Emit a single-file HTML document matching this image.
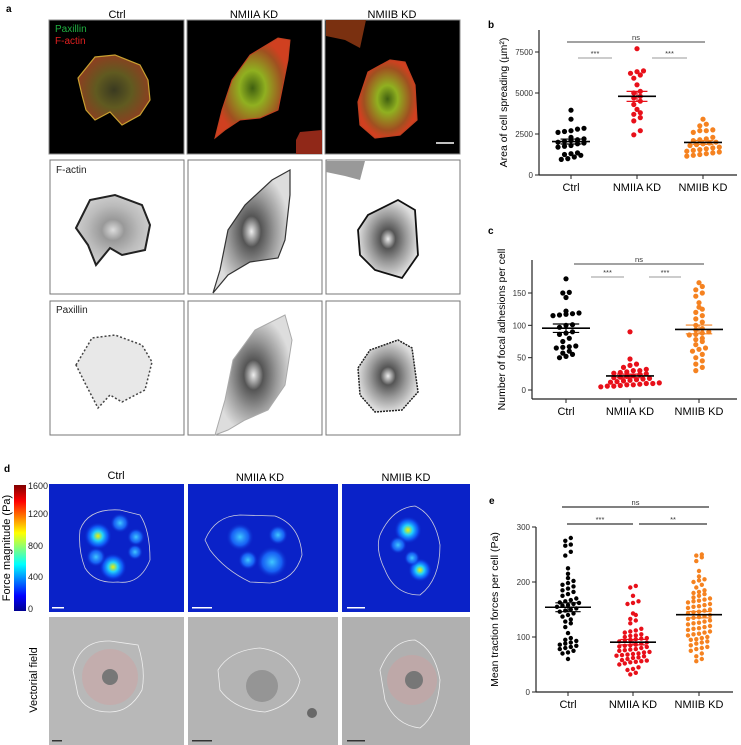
<!DOCTYPE html>
<html><head><meta charset="utf-8"><style>
html,body{margin:0;padding:0;background:#fff;}
svg{display:block;font-family:"Liberation Sans",Arial,sans-serif;}
</style></head><body>
<svg id="fig" width="741" height="745" viewBox="0 0 741 745">
<defs>
<linearGradient id="jet" x1="0" y1="1" x2="0" y2="0">
<stop offset="0" stop-color="#00008f"/><stop offset="0.12" stop-color="#0000ff"/><stop offset="0.37" stop-color="#00ffff"/><stop offset="0.62" stop-color="#ffff00"/><stop offset="0.87" stop-color="#ff0000"/><stop offset="1" stop-color="#800000"/>
</linearGradient>
<radialGradient id="hot"><stop offset="0" stop-color="#f0f000"/><stop offset="0.35" stop-color="#20d0ff"/><stop offset="0.7" stop-color="#1060ff" stop-opacity="0.8"/><stop offset="1" stop-color="#0a20c0" stop-opacity="0"/></radialGradient>
<radialGradient id="warm"><stop offset="0" stop-color="#40c8ff"/><stop offset="0.6" stop-color="#1a70ff" stop-opacity="0.8"/><stop offset="1" stop-color="#0a20c0" stop-opacity="0"/></radialGradient>
<radialGradient id="cellg"><stop offset="0" stop-color="#406010"/><stop offset="0.35" stop-color="#90b020"/><stop offset="0.8" stop-color="#a05020"/><stop offset="1" stop-color="#d04020"/></radialGradient>
<radialGradient id="cellc"><stop offset="0" stop-color="#3a3a20"/><stop offset="0.5" stop-color="#605a20"/><stop offset="1" stop-color="#8a4020"/></radialGradient>
<radialGradient id="gray1"><stop offset="0" stop-color="#ddd"/><stop offset="0.3" stop-color="#999"/><stop offset="0.7" stop-color="#bbb"/><stop offset="1" stop-color="#ccc"/></radialGradient>
<radialGradient id="gray2"><stop offset="0" stop-color="#eee"/><stop offset="0.25" stop-color="#555"/><stop offset="0.6" stop-color="#999"/><stop offset="1" stop-color="#ddd"/></radialGradient>
</defs>

<g>
<text x="6" y="12" font-size="10" font-weight="bold">a</text>
<text x="117" y="18" font-size="11" text-anchor="middle">Ctrl</text>
<text x="254" y="18" font-size="11" text-anchor="middle">NMIIA KD</text>
<text x="392" y="18" font-size="11" text-anchor="middle">NMIIB KD</text>
<rect x="49" y="20" width="135" height="134" fill="#000" stroke="#888"/>
<rect x="187" y="20" width="135" height="134" fill="#000" stroke="#888"/>
<rect x="325" y="20" width="135" height="134" fill="#000" stroke="#888"/>
<polygon points="78,78 95,57 115,55 140,65 148,80 150,100 140,115 122,125 110,112 95,120 86,110 82,95" fill="url(#cellc)" stroke="#c8a030" stroke-width="1.2"/>
<polygon points="215,138 222,110 232,80 250,55 278,38 290,40 288,60 282,90 278,110 260,118 240,120 225,130" fill="url(#cellg)" stroke="#c04020" stroke-width="1"/>
<polygon points="296,140 300,132 322,130 322,154 296,154" fill="#902818"/>
<polygon points="326,20 366,20 360,48 345,40 326,36" fill="#7a3010"/>
<polygon points="358,102 368,72 390,60 405,62 415,85 417,120 400,135 375,138 360,125" fill="url(#cellg)" stroke="#c04020" stroke-width="1.2"/>
<line x1="436" y1="143" x2="454" y2="143" stroke="#fff" stroke-width="1.5"/>
<text x="55" y="32" font-size="10" fill="#20b040">Paxillin</text>
<text x="55" y="44" font-size="10" fill="#e02020">F-actin</text>
<rect x="50" y="160" width="134" height="134" fill="#fff" stroke="#777"/>
<rect x="188" y="160" width="134" height="134" fill="#fff" stroke="#777"/>
<rect x="326" y="160" width="134" height="134" fill="#fff" stroke="#777"/>
<polygon points="76,228 90,200 115,195 142,205 150,225 145,250 122,255 110,248 96,265 88,245" fill="url(#gray1)" stroke="#222" stroke-width="2"/>
<polygon points="213,293 220,270 228,230 245,205 272,180 290,170 290,195 285,240 278,258 250,262 228,275" fill="url(#gray2)" stroke="#333" stroke-width="1.2"/>
<polygon points="358,230 368,215 398,200 415,210 418,255 402,278 375,270 360,255" fill="url(#gray2)" stroke="#111" stroke-width="1.8"/>
<polygon points="326,161 365,161 360,180 345,176 326,172" fill="#999"/>
<text x="56" y="173" font-size="10" fill="#222">F-actin</text>
<rect x="50" y="301" width="134" height="134" fill="#fff" stroke="#777"/>
<rect x="188" y="301" width="134" height="134" fill="#fff" stroke="#777"/>
<rect x="326" y="301" width="134" height="134" fill="#fff" stroke="#777"/>
<polygon points="76,365 92,338 115,335 142,345 152,362 145,390 122,402 110,395 98,408 86,385" fill="#e8e8e8" stroke="#444" stroke-width="1.5" stroke-dasharray="2,2"/>
<polygon points="215,435 225,400 233,360 255,330 285,315 292,340 285,385 268,410 245,420 228,430" fill="url(#gray2)" stroke="#aaa"/>
<polygon points="358,368 370,350 398,340 412,348 418,392 402,410 375,412 360,395" fill="url(#gray2)" stroke="#222" stroke-width="1.5" stroke-dasharray="2,1"/>
<text x="56" y="313" font-size="10" fill="#222">Paxillin</text>
</g>

<g>
<text x="4" y="472" font-size="10" font-weight="bold">d</text>
<text x="116" y="479" font-size="11" text-anchor="middle">Ctrl</text>
<text x="260" y="481" font-size="11" text-anchor="middle">NMIIA KD</text>
<text x="406" y="481" font-size="11" text-anchor="middle">NMIIB KD</text>
<rect x="14" y="485" width="12" height="126" fill="url(#jet)"/>
<g font-size="9" fill="#222">
<text x="28" y="489">1600</text>
<text x="28" y="517">1200</text>
<text x="28" y="549">800</text>
<text x="28" y="580">400</text>
<text x="28" y="612">0</text>
</g>
<text transform="translate(10,548) rotate(-90)" font-size="11" text-anchor="middle">Force magnitude (Pa)</text>
<text transform="translate(37,680) rotate(-90)" font-size="11" text-anchor="middle">Vectorial field</text>
<rect x="49" y="484" width="135" height="128" fill="#0a22c8"/>
<rect x="188" y="484" width="150" height="128" fill="#0a22c8"/>
<rect x="342" y="484" width="128" height="128" fill="#0a22c8"/>
<circle cx="98" cy="536" r="14" fill="url(#hot)"/><circle cx="113" cy="567" r="14" fill="url(#hot)"/><circle cx="96" cy="557" r="10" fill="url(#warm)"/><circle cx="120" cy="523" r="10" fill="url(#warm)"/><circle cx="136" cy="537" r="9" fill="url(#warm)"/><circle cx="135" cy="552" r="8" fill="url(#warm)"/>
<path d="M80,530 Q88,508 120,510 L140,515 Q150,530 150,560 Q140,585 118,582 Q95,584 85,568 Q78,550 80,530Z" fill="none" stroke="#ccd" stroke-width="0.8"/>
<circle cx="240" cy="537" r="14" fill="url(#warm)"/><circle cx="272" cy="562" r="16" fill="url(#warm)"/><circle cx="248" cy="560" r="10" fill="url(#warm)"/><circle cx="278" cy="535" r="10" fill="url(#warm)"/>
<path d="M205,540 Q215,516 240,515 L275,516 Q300,525 302,555 Q295,580 270,583 L250,582 Q225,570 210,550Z" fill="none" stroke="#ccd" stroke-width="0.8"/>
<circle cx="408" cy="530" r="14" fill="url(#hot)"/><circle cx="420" cy="570" r="12" fill="url(#hot)"/><circle cx="398" cy="545" r="9" fill="url(#warm)"/><circle cx="412" cy="558" r="8" fill="url(#warm)"/>
<path d="M380,535 Q392,508 415,506 Q435,515 440,545 Q440,580 420,595 Q395,595 385,570 Q375,550 380,535Z" fill="none" stroke="#ccd" stroke-width="0.8"/>
<rect x="52" y="607" width="12" height="1.5" fill="#fff"/><rect x="192" y="607" width="20" height="1.5" fill="#fff"/><rect x="347" y="607" width="18" height="1.5" fill="#fff"/>
<rect x="49" y="617" width="135" height="128" fill="#b8b8b8"/>
<rect x="188" y="617" width="150" height="128" fill="#b4b4b4"/>
<rect x="342" y="617" width="128" height="128" fill="#b0b0b0"/>
<circle cx="110" cy="677" r="28" fill="#d0a0a0" opacity="0.45"/><circle cx="110" cy="677" r="8" fill="#777"/>
<path d="M73,670 Q80,640 110,641 L138,645 Q146,670 142,690 Q130,712 110,712 Q85,712 78,695Z" fill="none" stroke="#eee" stroke-width="0.8"/>
<circle cx="262" cy="686" r="16" fill="#888" opacity="0.7"/><circle cx="312" cy="713" r="5" fill="#555" opacity="0.8"/>
<path d="M218,670 Q230,650 260,648 Q290,652 300,680 Q295,705 265,712 Q235,710 220,690Z" fill="none" stroke="#eee" stroke-width="0.8"/>
<circle cx="412" cy="680" r="25" fill="#d0a0a0" opacity="0.45"/><circle cx="414" cy="680" r="9" fill="#777"/>
<path d="M380,670 Q392,640 415,640 Q435,650 440,680 Q438,715 420,728 Q395,725 385,700Z" fill="none" stroke="#eee" stroke-width="0.8"/>
<rect x="52" y="740" width="10" height="1.5" fill="#333"/><rect x="192" y="740" width="20" height="1.5" fill="#333"/><rect x="347" y="740" width="18" height="1.5" fill="#333"/>
</g>

<g id="charts"></g>
</svg>
<script>
const categories = ["Ctrl", "NMIIA KD", "NMIIB KD"];
const colors = ["#000000", "#e8101a", "#f58220"];

const areaCtrl = [3950,3400,2850,2800,2700,2650,2600,2300,2200,2150,2100,2050,2000,1950,1900,1800,1750,1700,1350,1300,1250,1200,1100,1000,950];
const areaNMIIA = [7700,6350,6300,6200,6100,5900,5500,5100,5000,4800,4700,4500,4300,4000,3800,3700,3500,3300,2700,2450];
const areaNMIIB = [3400,3100,3000,2750,2700,2700,2600,2300,2200,2150,2100,2000,1950,1900,1850,1800,1700,1650,1600,1550,1500,1450,1400,1350,1300,1250,1200,1150];
const areaTicks = [0,2500,5000,7500];

const faCtrl = [172,151,150,143,122,119,118,117,116,115,101,100,97,90,88,86,80,75,68,67,66,65,60,57,55,52,50];
const faNMIIA = [90,48,40,38,35,32,30,30,28,27,26,25,24,22,21,20,19,18,17,16,15,14,13,12,11,10,10,9,8,8,7,6,6,5];
const faNMIIB = [166,160,155,150,145,135,128,125,120,115,110,105,100,95,93,90,88,86,85,80,78,75,70,65,63,60,55,50,45,40,35,30];
const faTicks = [0,50,100,150];

const tfCtrl = [280,275,268,266,255,248,225,215,207,202,198,195,192,188,185,182,178,175,170,167,165,163,162,160,158,157,155,152,150,148,146,143,140,137,132,128,125,118,107,98,95,93,90,88,86,84,82,80,78,75,72,70,60];
const tfNMIIA = [193,190,175,165,162,160,143,140,133,130,125,115,112,110,108,105,103,102,100,98,97,96,95,93,92,90,88,86,85,84,83,82,80,78,77,76,75,73,72,70,69,68,67,66,65,63,62,60,58,57,56,55,54,52,50,45,42,40,35,32];
const tfNMIIB = [250,248,245,238,220,210,205,203,200,195,190,185,182,180,178,175,172,170,168,166,165,163,160,158,156,155,153,150,148,146,145,143,140,138,136,135,133,130,128,126,125,123,120,118,116,115,113,110,108,106,105,103,100,98,96,95,92,90,88,85,82,80,78,75,70,65,60,56];
const tfTicks = [0,100,200,300];

const NS = "http://www.w3.org/2000/svg";
const root = document.getElementById("charts");
function mk(tag, attrs, parent, txt) {
  const e = document.createElementNS(NS, tag);
  for (const k in attrs) e.setAttribute(k, attrs[k]);
  if (txt !== undefined) e.textContent = txt;
  (parent || root).appendChild(e);
  return e;
}
function stats(a) {
  const m = a.reduce((s, v) => s + v, 0) / a.length;
  const sd = Math.sqrt(a.reduce((s, v) => s + (v - m) * (v - m), 0) / (a.length - 1));
  return [m, sd / Math.sqrt(a.length)];
}
// bin-based horizontal spread: values in same vertical band are laid side by side
function swarm(vals, cx, y, r, band) {
  const sorted = vals.slice().sort((a, b) => a - b);
  const rows = [];
  sorted.forEach(v => {
    const py = y(v);
    let row = rows.find(rw => Math.abs(rw.y - py) < band);
    if (!row) { row = {y: py, items: []}; rows.push(row); }
    row.items.push([v, py]);
  });
  const out = [];
  const step = r * 2.5;
  rows.forEach((rw, ri) => {
    const n = rw.items.length;
    const shift = (n % 2 === 0) ? 0 : 0;
    rw.items.forEach((it, k) => {
      const px = cx + (k - (n - 1) / 2) * step + shift;
      out.push([px, it[1], it[0]]);
    });
  });
  return out;
}

function chart(cfg) {
  const g = mk("g", {});
  
  
  const y = v => cfg.y0 + (v - cfg.vmin) / (cfg.vmax - cfg.vmin) * (cfg.y1 - cfg.y0);
  const lbl = mk("text", {x: cfg.lx, y: cfg.ly, "font-size": 10, "font-weight": "bold"}, g, cfg.letter);
  
  
  const ya = mk("line", {x1: cfg.ax, y1: cfg.axisTop, x2: cfg.ax, y2: cfg.axisBottom, stroke: "#222", "stroke-width": 1.2}, g);
  
  
  const xa = mk("line", {x1: cfg.ax, y1: cfg.axisBottom, x2: cfg.axRight, y2: cfg.axisBottom, stroke: "#222", "stroke-width": 1.2}, g);
  
  
  cfg.ticks.forEach(t => {
    mk("line", {x1: cfg.ax - 4, y1: y(t), x2: cfg.ax, y2: y(t), stroke: "#222"}, g);
    const tl = mk("text", {x: cfg.ax - 6, y: y(t) + 3, "font-size": 8, "text-anchor": "end", fill: "#333"}, g, String(t));
    
    
  });
  const yt = mk("text", {transform: `translate(${cfg.tx},${(cfg.axisTop + cfg.axisBottom) / 2}) rotate(-90)`, "font-size": 10.5, "text-anchor": "middle"}, g, cfg.title);
  
  
  cfg.series.forEach((vals, i) => {
    const cx = cfg.cx[i];
    mk("line", {x1: cx, y1: cfg.axisBottom, x2: cx, y2: cfg.axisBottom + 4, stroke: "#222"}, g);
    const cl = mk("text", {x: cx, y: cfg.axisBottom + 16, "font-size": 11, "text-anchor": "middle"}, g, categories[i]);
    
    
    swarm(vals, cx, y, cfg.r, cfg.band).forEach(p => {
      const c = mk("circle", {cx: p[0].toFixed(1), cy: p[1].toFixed(1), r: cfg.r, fill: colors[i]}, g);
      
      
    });
    const [m, se] = stats(vals);
    const lc = colors[i];
    [m - se, m + se].forEach(v => mk("line", {x1: cx - cfg.mw * 0.55, y1: y(v), x2: cx + cfg.mw * 0.55, y2: y(v), stroke: lc, "stroke-width": 1.2}, g));
    mk("line", {x1: cx, y1: y(m - se), x2: cx, y2: y(m + se), stroke: lc, "stroke-width": 1.2}, g);
    const ml = mk("line", {x1: cx - cfg.mw, y1: y(m), x2: cx + cfg.mw, y2: y(m), stroke: "#000", "stroke-width": 1.6}, g);
    
    
  });
  cfg.sig.forEach(s => {
    const sl = mk("line", {x1: s[0], y1: s[2], x2: s[1], y2: s[2], stroke: s[4], "stroke-width": 1}, g);
    
    
    const st = mk("text", {x: (s[0] + s[1]) / 2, y: s[2] - 2, "font-size": 7.5, "text-anchor": "middle", fill: "#333"}, g, s[3]);
    
    
  });
}

chart({name: "chart-b-area", letter: "b", lx: 488, ly: 28, vmin: 0, vmax: 7500, y0: 175, y1: 52,
  ax: 539, axRight: 737, axisTop: 30, axisBottom: 175, ticks: areaTicks, tx: 507,
  title: "Area of cell spreading (µm²)", cx: [571, 637, 703], r: 2.6, band: 4.5, mw: 19,
  series: [areaCtrl, areaNMIIA, areaNMIIB],
  sig: [[567, 705, 42, "ns", "#444"], [578, 612, 58, "***", "#999"], [652, 687, 58, "***", "#999"]]});

chart({name: "chart-c-focal-adhesions", letter: "c", lx: 488, ly: 234, vmin: 0, vmax: 150, y0: 390, y1: 293,
  ax: 532, axRight: 737, axisTop: 260, axisBottom: 399, ticks: faTicks, tx: 505,
  title: "Number of focal adhesions per cell", cx: [566, 630, 699], r: 2.6, band: 4.5, mw: 24,
  series: [faCtrl, faNMIIA, faNMIIB],
  sig: [[574, 704, 264, "ns", "#444"], [591, 624, 277, "***", "#999"], [649, 681, 277, "***", "#999"]]});

chart({name: "chart-e-traction", letter: "e", lx: 489, ly: 504, vmin: 0, vmax: 300, y0: 692, y1: 527,
  ax: 536, axRight: 733, axisTop: 527, axisBottom: 692, ticks: tfTicks, tx: 498,
  title: "Mean traction forces per cell (Pa)", cx: [568, 633, 699], r: 2.2, band: 4, mw: 23,
  series: [tfCtrl, tfNMIIA, tfNMIIB],
  sig: [[562, 709, 507, "ns", "#000"], [567, 633, 524, "***", "#000"], [639, 707, 524, "**", "#000"]]});
</script>
</body></html>
